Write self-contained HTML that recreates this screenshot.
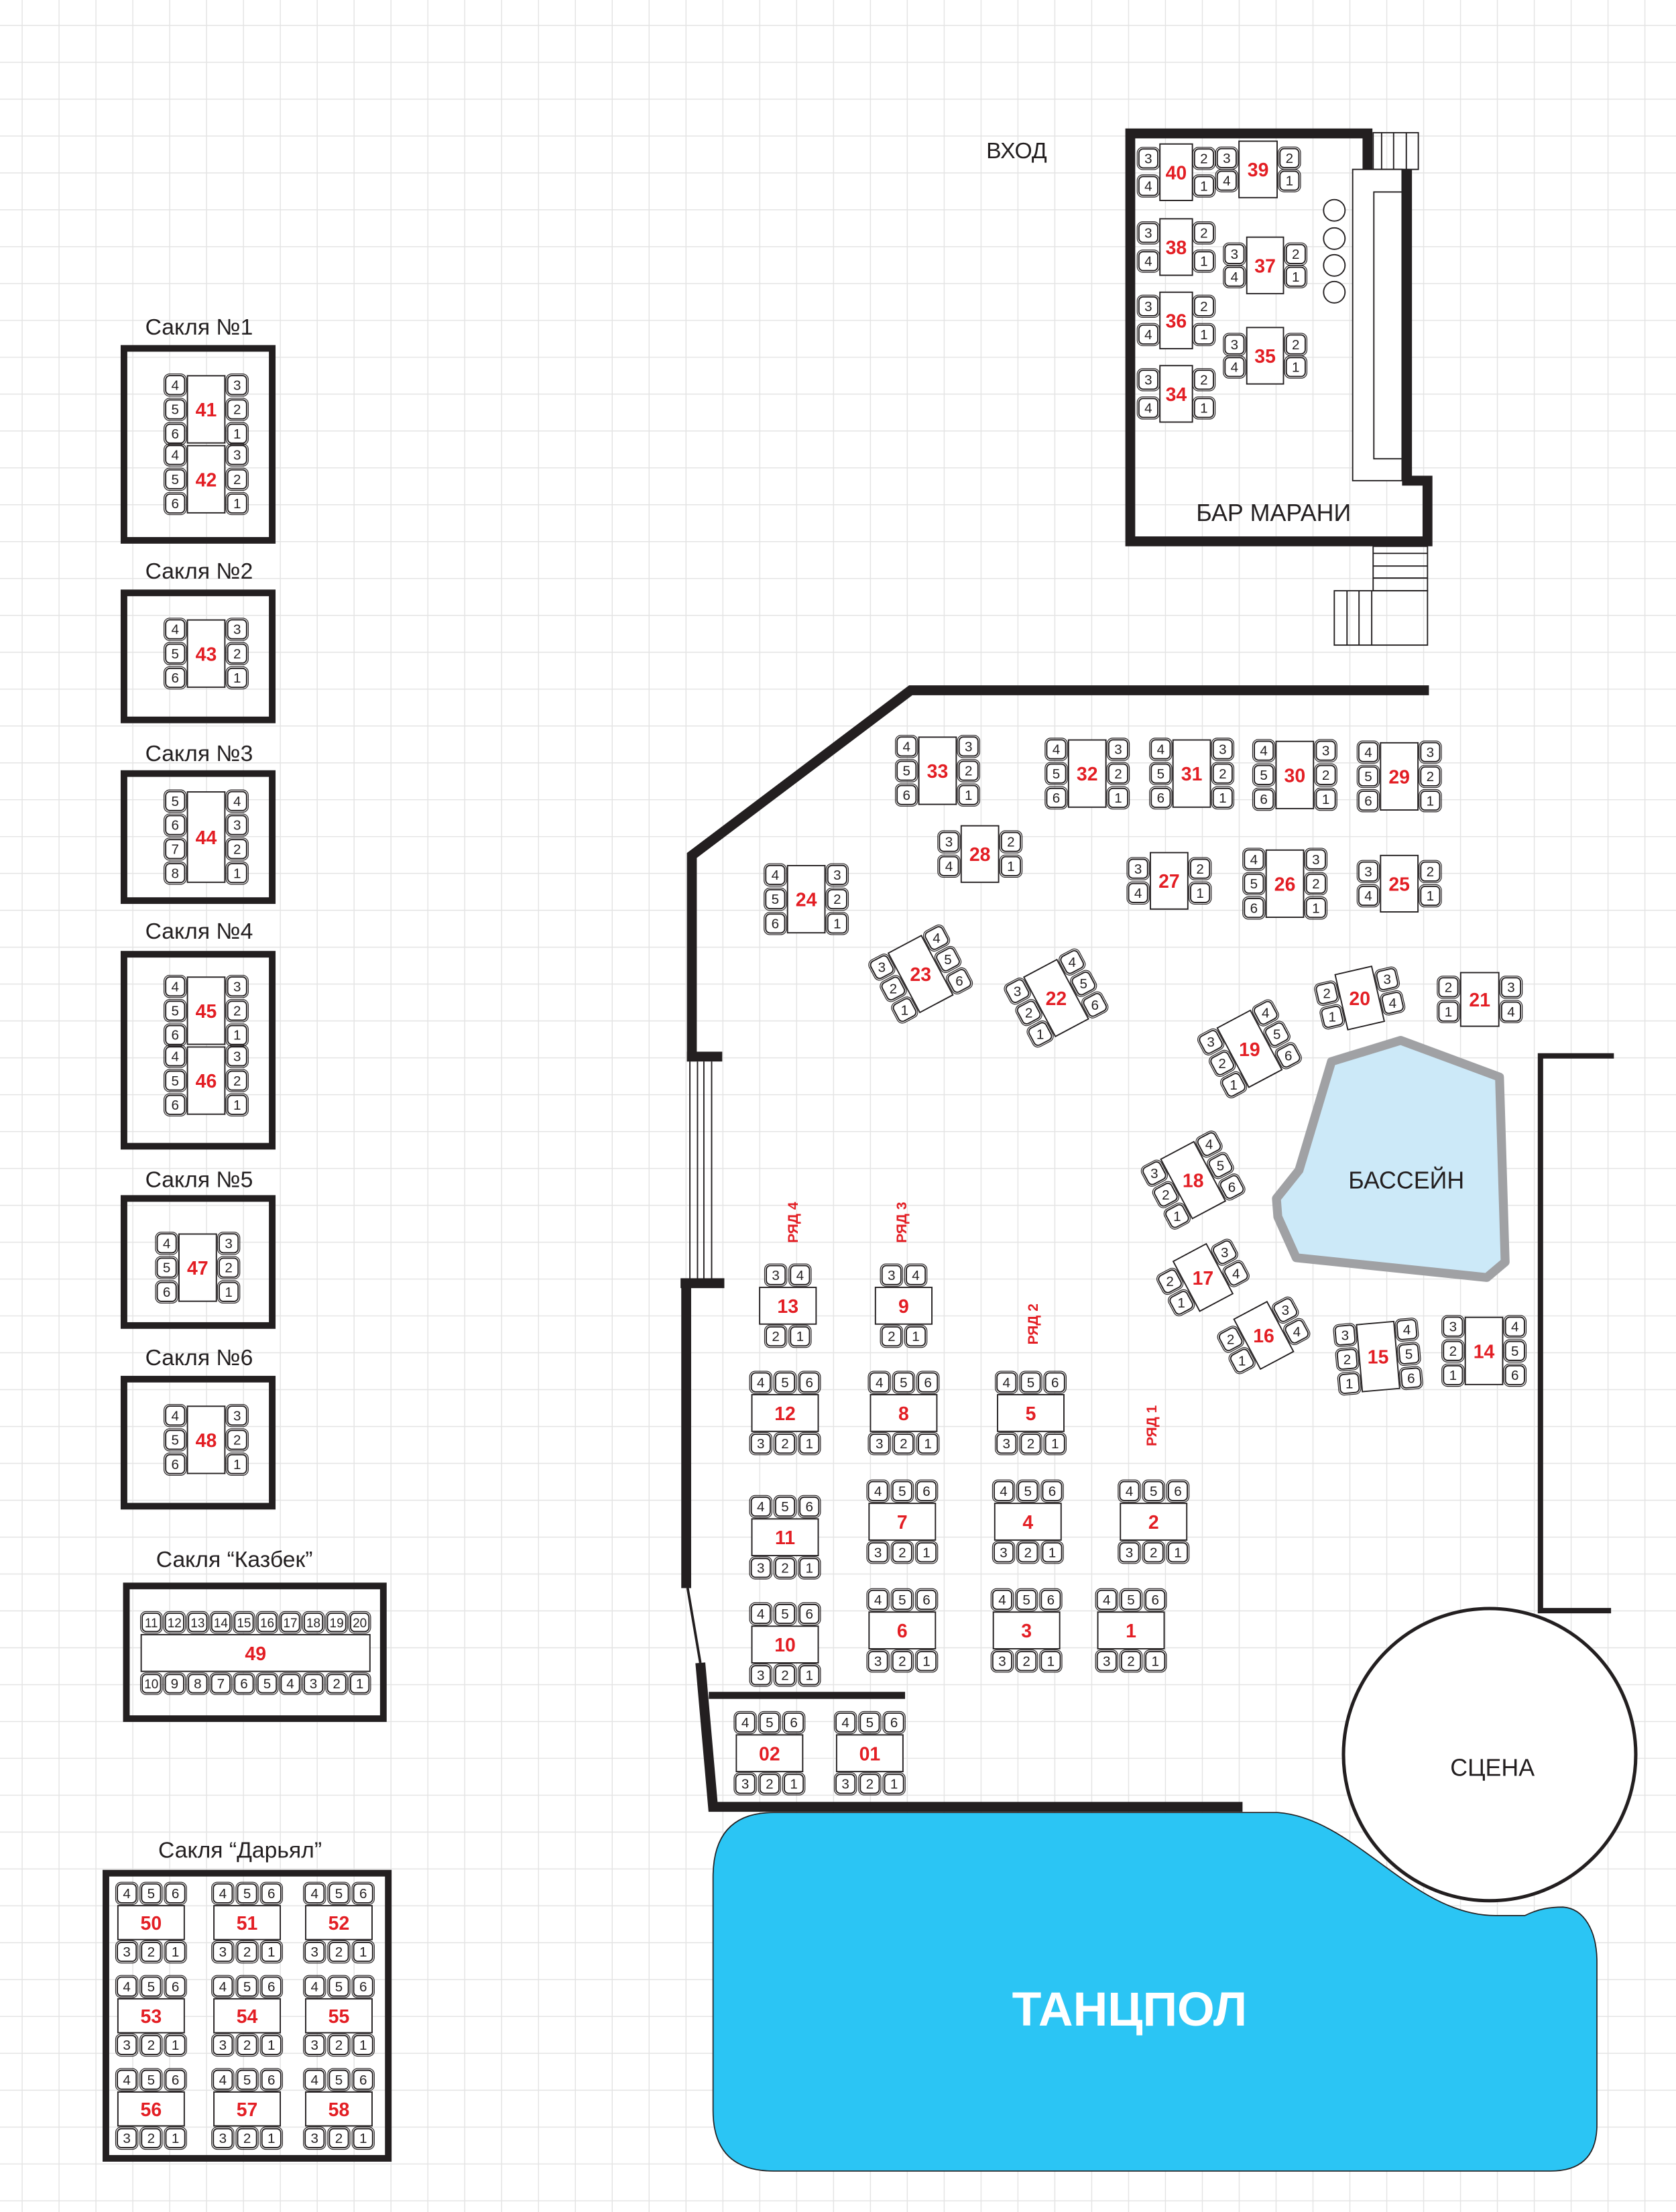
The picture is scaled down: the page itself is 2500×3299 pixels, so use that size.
<!DOCTYPE html>
<html><head><meta charset="utf-8">
<style>
html,body{margin:0;padding:0;background:#fff;}
svg{display:block;}
text{font-family:"Liberation Sans","DejaVu Sans",sans-serif;}
</style></head>
<body>
<svg id="s" xmlns="http://www.w3.org/2000/svg" width="2500" height="3299" viewBox="0 0 1187 1567" preserveAspectRatio="none">
<rect x="0" y="0" width="1187" height="1567" fill="#fff"/>
<g id="grid" stroke="#e4e4e4" stroke-width="0.7"></g>
<g id="main">
<!-- Bar Marani -->
<path d="M800.5,380.5 V94.5 H968.5 V123.5 H996.5 V340.5 H1011 V383.5 H800.5 Z" fill="none" stroke="#231f20" stroke-width="7" stroke-linejoin="miter"/>
<rect x="972.5" y="94" width="32" height="26" fill="none" stroke="#231f20" stroke-width="0.9"/>
<line x1="978.5" y1="94" x2="978.5" y2="120" stroke="#231f20" stroke-width="0.9"/>
<line x1="987" y1="94" x2="987" y2="120" stroke="#231f20" stroke-width="0.9"/>
<line x1="996" y1="94" x2="996" y2="120" stroke="#231f20" stroke-width="0.9"/>
<rect x="958" y="120" width="35" height="220.5" fill="#fff" stroke="#231f20" stroke-width="0.9"/>
<rect x="973" y="136" width="20" height="189" fill="#fff" stroke="#231f20" stroke-width="0.9"/>
<circle cx="945" cy="149" r="7.6" fill="#fff" stroke="#231f20" stroke-width="0.9"/>
<circle cx="945" cy="169" r="7.6" fill="#fff" stroke="#231f20" stroke-width="0.9"/>
<circle cx="945" cy="188" r="7.6" fill="#fff" stroke="#231f20" stroke-width="0.9"/>
<circle cx="945" cy="207" r="7.6" fill="#fff" stroke="#231f20" stroke-width="0.9"/>
<rect x="972.5" y="387" width="38.5" height="31.5" fill="none" stroke="#231f20" stroke-width="0.9"/>
<line x1="972.5" y1="392" x2="1011" y2="392" stroke="#231f20" stroke-width="0.9"/>
<line x1="972.5" y1="401" x2="1011" y2="401" stroke="#231f20" stroke-width="0.9"/>
<line x1="972.5" y1="409.5" x2="1011" y2="409.5" stroke="#231f20" stroke-width="0.9"/>
<rect x="945" y="418.5" width="66" height="38.5" fill="none" stroke="#231f20" stroke-width="0.9"/>
<line x1="954" y1="418.5" x2="954" y2="457" stroke="#231f20" stroke-width="0.9"/>
<line x1="962.5" y1="418.5" x2="962.5" y2="457" stroke="#231f20" stroke-width="0.9"/>
<line x1="971.5" y1="418.5" x2="971.5" y2="457" stroke="#231f20" stroke-width="0.9"/>
<text x="720" y="112" font-size="16" text-anchor="middle" fill="#231f20">ВХОД</text>
<text x="902" y="369" font-size="17" text-anchor="middle" fill="#231f20">БАР МАРАНИ</text>

<!-- Hall walls -->
<polyline points="1012,489 645,489 490,606 490,752" fill="none" stroke="#231f20" stroke-width="7"/>
<line x1="486.5" y1="748.5" x2="511.5" y2="748.5" stroke="#231f20" stroke-width="7"/>
<line x1="488.6" y1="752" x2="488.6" y2="906" stroke="#231f20" stroke-width="0.9"/>
<line x1="494" y1="752" x2="494" y2="906" stroke="#231f20" stroke-width="0.9"/>
<line x1="498.5" y1="752" x2="498.5" y2="906" stroke="#231f20" stroke-width="0.9"/>
<line x1="504" y1="752" x2="504" y2="906" stroke="#231f20" stroke-width="0.9"/>
<line x1="482" y1="909" x2="513" y2="909" stroke="#231f20" stroke-width="7"/>
<line x1="486" y1="906" x2="486" y2="1125" stroke="#231f20" stroke-width="7"/>
<line x1="487" y1="1125" x2="496" y2="1178" stroke="#231f20" stroke-width="1.8"/>
<polyline points="496,1178 505,1280 880,1280" fill="none" stroke="#231f20" stroke-width="7"/>
<line x1="502" y1="1201" x2="641" y2="1201" stroke="#231f20" stroke-width="5"/>
<polyline points="1143,748 1091,748 1091,1141 1141,1141" fill="none" stroke="#231f20" stroke-width="3.8"/>

<!-- Pool -->
<polygon points="943,752 992,737 1062,763 1066,894 1053,905 918,891 905,862 904,849 920,829" fill="#cce9f8" stroke="#a0a1a4" stroke-width="6.3" stroke-linejoin="round"/>
<text x="996" y="842" font-size="17" text-anchor="middle" fill="#231f20">БАССЕЙН</text>

<!-- Stage -->
<circle cx="1055" cy="1243" r="103.5" fill="#fff" stroke="#231f20" stroke-width="2.4"/>
<text x="1057" y="1258" font-size="17" text-anchor="middle" fill="#231f20">СЦЕНА</text>

<!-- Dance floor -->
<path d="M548,1284 L905,1284 C960,1288 1000,1357 1059,1357 L1080,1357 C1090,1352 1098,1351 1107,1351 C1122,1352 1131,1368 1131,1390 L1131,1505 Q1131,1538 1098,1538 L548,1538 Q505,1538 505,1495 L505,1330 Q505,1284 548,1284 Z" fill="#2bc5f4" stroke="#231f20" stroke-width="0.8"/>
<text x="800" y="1435" font-size="34" font-weight="bold" text-anchor="middle" fill="#fff">ТАНЦПОЛ</text>

<!-- Sakli boxes -->
<rect x="87.8" y="246.8" width="105" height="136" fill="none" stroke="#231f20" stroke-width="4.7"/>
<rect x="87.8" y="420" width="105" height="90" fill="none" stroke="#231f20" stroke-width="4.7"/>
<rect x="87.8" y="548" width="105" height="90" fill="none" stroke="#231f20" stroke-width="4.7"/>
<rect x="87.8" y="676" width="105" height="136" fill="none" stroke="#231f20" stroke-width="4.7"/>
<rect x="87.8" y="849" width="105" height="90" fill="none" stroke="#231f20" stroke-width="4.7"/>
<rect x="87.8" y="977" width="105" height="90" fill="none" stroke="#231f20" stroke-width="4.7"/>
<rect x="89.5" y="1123.5" width="182" height="94" fill="none" stroke="#231f20" stroke-width="4.7"/>
<rect x="75" y="1327" width="200" height="202" fill="none" stroke="#231f20" stroke-width="4.7"/>
<g font-size="16" text-anchor="middle" fill="#231f20">
<text x="141" y="237">Сакля №1</text>
<text x="141" y="410">Сакля №2</text>
<text x="141" y="539">Сакля №3</text>
<text x="141" y="665">Сакля №4</text>
<text x="141" y="841">Сакля №5</text>
<text x="141" y="967">Сакля №6</text>
<text x="166" y="1110">Сакля “Казбек”</text>
<text x="170" y="1316">Сакля “Дарьял”</text>
</g>
<g font-size="10" font-weight="bold" fill="#e31e24" text-anchor="middle">
<text transform="translate(565,866) rotate(-90)">РЯД 4</text>
<text transform="translate(642,866) rotate(-90)">РЯД 3</text>
<text transform="translate(735,938) rotate(-90)">РЯД 2</text>
<text transform="translate(819,1010) rotate(-90)">РЯД 1</text>
</g>
</g>
<g id="tables"></g>
</svg>
<script>
(function(){
var NS="http://www.w3.org/2000/svg";
function el(t,a,p){var e=document.createElementNS(NS,t);for(var k in a)e.setAttribute(k,a[k]);if(p)p.appendChild(e);return e;}
var grid=document.getElementById('grid');
for(var x=15.7;x<1187;x+=26.12)el('line',{x1:x,y1:0,x2:x,y2:1567},grid);
for(var y=18;y<1567;y+=26.12)el('line',{x1:0,y1:y,x2:1187,y2:y},grid);
var G=document.getElementById('tables');
function chair(x,y,lab,ang,cs){
  cs=cs||13.4;
  var h=cs/2;
  el('rect',{x:x-h-1.2,y:y-h-1.2,width:cs+2.4,height:cs+2.4,rx:4,fill:'none',stroke:'#231f20','stroke-width':0.55,transform:'rotate('+ang+' '+x+' '+y+')'},G);
  el('rect',{x:x-h,y:y-h,width:cs,height:cs,rx:3,fill:'#fff',stroke:'#231f20','stroke-width':0.9,transform:'rotate('+ang+' '+x+' '+y+')'},G);
  var t=el('text',{x:x,y:y+3.4,'font-size':lab.length>1?9:9.8,'text-anchor':'middle',fill:'#231f20'},G);
  t.textContent=lab;
}
function T(o){
  var a=o.a||0,r=a*Math.PI/180,c=Math.cos(r),s=Math.sin(r);
  var cx=o.x,cy=o.y,w=o.w,h=o.h,sp=o.sp||17.2,g=o.g||8.7;
  function P(dx,dy){return [cx+dx*c-dy*s, cy+dx*s+dy*c];}
  el('rect',{x:cx-w/2,y:cy-h/2,width:w,height:h,fill:'#fff',stroke:'#231f20','stroke-width':0.9,transform:'rotate('+a+' '+cx+' '+cy+')'},G);
  function col(list,fx,vert,spc,off){
    if(!list)return;var n=list.length;spc=spc||sp;off=off||0;
    for(var i=0;i<n;i++){var d=(i-(n-1)/2)*spc+off;var p=vert?P(fx,d):P(d,fx);chair(p[0],p[1],list[i],a,o.cs);}
  }
  col(o.L,-w/2-g,true,o.spL);
  col(o.R,w/2+g,true,o.spR);
  col(o.T,-h/2-g,false,o.spT);
  col(o.B,h/2+g,false,o.spB);
  var t=el('text',{x:cx+(o.lx||0),y:cy+5,'font-size':o.fs||13.5,'font-weight':'bold','text-anchor':'middle',fill:'#e31e24'},G);
  t.textContent=o.n;
}
var L3=['4','5','6'],R3=['3','2','1'];
// Sakli
T({x:146,y:290,w:26.5,h:47.6,n:'41',L:L3,R:R3});
T({x:146,y:339.5,w:26.5,h:47.6,n:'42',L:L3,R:R3});
T({x:146,y:463,w:26.5,h:47.6,n:'43',L:L3,R:R3});
T({x:146,y:593,w:26.5,h:64,n:'44',L:['5','6','7','8'],R:['4','3','2','1'],sp:17});
T({x:146,y:716,w:26.5,h:47.6,n:'45',L:L3,R:R3});
T({x:146,y:765.5,w:26.5,h:47.6,n:'46',L:L3,R:R3});
T({x:140,y:898,w:26.5,h:47.6,n:'47',L:['4','5','6'],R:R3});
T({x:146,y:1020,w:26.5,h:47.6,n:'48',L:L3,R:R3});
// Kazbek
T({x:181,y:1171,w:162,h:26,n:'49',T:['11','12','13','14','15','16','17','18','19','20'],B:['10','9','8','7','6','5','4','3','2','1'],sp:16.4,cs:13});
// Darial
var xs=[107,175,240],ys=[1362,1428,1494],nums=['50','51','52','53','54','55','56','57','58'];
for(var i=0;i<3;i++)for(var j=0;j<3;j++)T({x:xs[j],y:ys[i],w:47,h:24,n:nums[i*3+j],T:['4','5','6'],B:['3','2','1']});
// Bar
T({x:833,y:122,w:23,h:40,n:'40',L:['3','4'],R:['2','1'],sp:19.5,g:8.2});
T({x:891,y:120,w:27,h:40,n:'39',L:['3','4'],R:['2','1'],sp:16});
T({x:833,y:175,w:23,h:40,n:'38',L:['3','4'],R:['2','1'],sp:20,g:8.2});
T({x:896,y:188,w:26,h:40,n:'37',L:['3','4'],R:['2','1'],sp:16});
T({x:833,y:227,w:23,h:40,n:'36',L:['3','4'],R:['2','1'],sp:20,g:8.2});
T({x:896,y:252,w:26,h:40,n:'35',L:['3','4'],R:['2','1'],sp:16});
T({x:833,y:279,w:23,h:40,n:'34',L:['3','4'],R:['2','1'],sp:20,g:8.2});
// Hall top
T({x:664,y:546,w:26.5,h:47.6,n:'33',L:L3,R:R3});
T({x:770,y:548,w:26.5,h:47.6,n:'32',L:L3,R:R3});
T({x:844,y:548,w:26.5,h:47.6,n:'31',L:L3,R:R3});
T({x:917,y:549,w:26.5,h:47.6,n:'30',L:L3,R:R3});
T({x:991,y:550,w:26.5,h:47.6,n:'29',L:L3,R:R3});
T({x:694,y:605,w:26.5,h:40,n:'28',L:['3','4'],R:['2','1']});
T({x:571,y:637,w:26.5,h:47.6,n:'24',L:L3,R:R3});
T({x:828,y:624,w:26.5,h:40,n:'27',L:['3','4'],R:['2','1']});
T({x:910,y:626,w:26.5,h:47.6,n:'26',L:L3,R:R3});
T({x:991,y:626,w:26.5,h:40,n:'25',L:['3','4'],R:['2','1']});
// rotated
var Lr=['3','2','1'],Rr=['4','5','6'];
T({x:652,y:690,w:26.5,h:47.6,n:'23',L:Lr,R:Rr,a:-28});
T({x:748,y:707,w:26.5,h:47.6,n:'22',L:Lr,R:Rr,a:-28});
T({x:963,y:707,w:26.5,h:40,n:'20',L:['2','1'],R:['3','4'],a:-13});
T({x:1048,y:708,w:27,h:38,n:'21',L:['2','1'],R:['3','4']});
T({x:885,y:743,w:26.5,h:47.6,n:'19',L:Lr,R:Rr,a:-28});
T({x:845,y:836,w:26.5,h:47.6,n:'18',L:Lr,R:Rr,a:-28});
T({x:852,y:905,w:26.5,h:40,n:'17',L:['2','1'],R:['3','4'],a:-28});
T({x:895,y:946,w:26.5,h:40,n:'16',L:['2','1'],R:['3','4'],a:-28});
T({x:976,y:961,w:26.5,h:47.6,n:'15',L:Lr,R:Rr,a:-5});
T({x:1051,y:957,w:26.5,h:47.6,n:'14',L:Lr,R:Rr});
// rows
T({x:558,y:925,w:40,h:26,n:'13',T:['3','4'],B:['2','1']});
T({x:640,y:925,w:40,h:26,n:'9',T:['3','4'],B:['2','1']});
var T3=['4','5','6'],B3=['3','2','1'];
T({x:556,y:1001,w:47,h:26,n:'12',T:T3,B:B3});
T({x:640,y:1001,w:47,h:26,n:'8',T:T3,B:B3});
T({x:730,y:1001,w:47,h:26,n:'5',T:T3,B:B3});
T({x:556,y:1089,w:47,h:26,n:'11',T:T3,B:B3});
T({x:639,y:1078,w:47,h:26,n:'7',T:T3,B:B3});
T({x:728,y:1078,w:47,h:26,n:'4',T:T3,B:B3});
T({x:817,y:1078,w:47,h:26,n:'2',T:T3,B:B3});
T({x:556,y:1165,w:47,h:26,n:'10',T:T3,B:B3});
T({x:639,y:1155,w:47,h:26,n:'6',T:T3,B:B3});
T({x:727,y:1155,w:47,h:26,n:'3',T:T3,B:B3});
T({x:801,y:1155,w:47,h:26,n:'1',T:T3,B:B3});
T({x:545,y:1242,w:47,h:26,n:'02',T:T3,B:B3});
T({x:616,y:1242,w:47,h:26,n:'01',T:T3,B:B3});
})();
</script>
</body></html>
